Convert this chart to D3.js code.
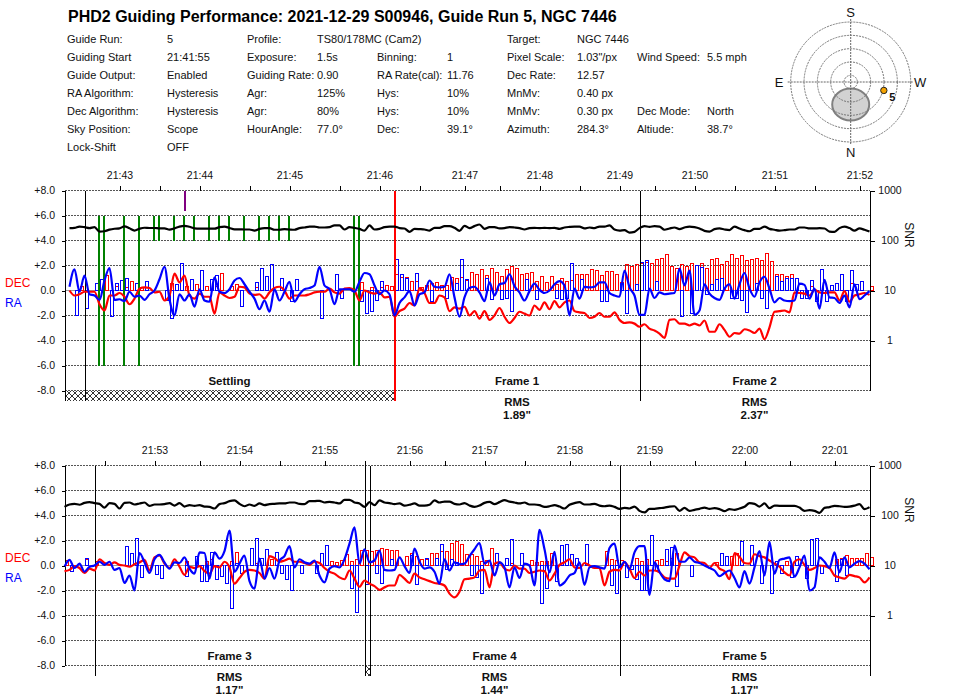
<!DOCTYPE html>
<html>
<head>
<meta charset="utf-8">
<script src="https://cdn.jsdelivr.net/npm/d3@7"></script>
<style>
body { margin: 0; background: #fff; }
svg { display: block; }
text { font-family: "Liberation Sans", Arial, sans-serif; fill: #111; }
</style>
</head>
<body>
<script>
var width = 955, height = 699;

var titleText = "PHD2 Guiding Performance: 2021-12-29 S00946, Guide Run 5, NGC 7446";

// header table, one list per column
var infoCols = [
  ["Guide Run:", "Guiding Start", "Guide Output:", "RA Algorithm:", "Dec Algorithm:", "Sky Position:", "Lock-Shift"],
  ["5", "21:41:55", "Enabled", "Hysteresis", "Hysteresis", "Scope", "OFF"],
  ["Profile:", "Exposure:", "Guiding Rate:", "Agr:", "Agr:", "HourAngle:"],
  ["TS80/178MC (Cam2)", "1.5s", "0.90", "125%", "80%", "77.0°"],
  ["", "Binning:", "RA Rate(cal):", "Hys:", "Hys:", "Dec:"],
  ["", "1", "11.76", "10%", "10%", "39.1°"],
  ["Target:", "Pixel Scale:", "Dec Rate:", "MnMv:", "MnMv:", "Azimuth:"],
  ["NGC 7446", "1.03\"/px", "12.57", "0.40 px", "0.30 px", "284.3°"],
  ["", "Wind Speed:", "", "", "Dec Mode:", "Altiude:"],
  ["", "5.5 mph", "", "", "North", "38.7°"]
];
var infoX = [67, 167, 247, 317, 377, 447, 507, 577, 637, 707];

var azimuth = 284.3, altitude = 38.7, runNumber = "5";

var yTicks = [8, 6, 4, 2, 0, -2, -4, -6, -8];
var snrTicks = [1000, 100, 10, 1];

// ---- top plot, samples run from 1 ----
var dec1 = [0,-.4,-.3,-.1,-.1,-.1,-1.1,-1.6,-.4,-.4,
  -.2,-.5,-1.1,-.65,.15,.25,.2,-.15,-.1,-.8,
  -.4,1.35,.65,1.2,-.4,-.65,-.25,-.5,-.5,-1.85,
  -.15,-.4,-.6,-.5,.3,.25,-.25,-.35,-.3,-.65,
  -.15,.2,.3,0,-.65,-.4,-.4,-.4,-.3,-.15,
  -.1,-.1,.15,-.15,-.25,.15,.2,0,-.8,0,
  -.15,-.25,-.15,-.55,-.5,-2.1,-1.65,-1.45,-1,-1.2,
  .2,-.2,-1,-1,-.4,-.55,-1.65,-1.35,-1.45,-1.3,
  -2,-1.65,-2.25,-1.65,-2.35,-2,-1.4,-2.1,-2.6,-2.2,
  -1.7,-1.85,-2,-1.2,-1.55,-.95,-1.5,-.85,-1.35,-.95,
  -.8,-1.65,-1.75,-1.8,-2.2,-2.1,-1.8,-2.1,-2.1,-1.75,
  -2.35,-2.6,-2.55,-2.65,-2.9,-2.7,-3.05,-3.2,-3.45,-3.8,
  -2.35,-2.3,-2.65,-2.65,-2.8,-2.65,-2.8,-2.4,-3.3,-3.3,
  -2.7,-3.15,-3.7,-3.4,-3.45,-3.1,-3.2,-3.4,-3.05,-3.9,
  -2.95,-1.7,-1.65,-1.6,-1.75,-.15,-.2,-.25,-.4,.05,
  -.15,-.2,-.15,-.15,-.8,-.05,-.9,-.4,-.3,-.2,-.35];
var ra1 = [.3,1.7,-.1,1.2,-.3,-.4,-.75,.8,1.8,-.75,
  -.7,-.85,-.1,-.5,-.4,-.75,-.3,0,.9,1.9,
  -.7,-2,-.3,-.8,-.3,-1.3,.1,-.8,-.9,1.05,
  -.1,-.2,.1,.8,1,.5,-.1,-.65,-1.5,-.8,
  -1.7,.1,-.8,-.1,.7,-.9,-.3,.1,.2,.4,
  1.9,.4,.1,-1.1,.1,.1,.1,-.1,.7,1.4,
  1.3,.4,-.3,0,-.3,-2,-1,-.55,-.05,-1.2,
  -.3,-.15,.8,.3,.25,.3,1.3,-.55,-2.1,-.55,
  .2,.3,-.15,-.85,.65,-.4,.5,.6,1.3,.35,
  -.15,-.8,-.05,.55,.05,-.2,0,.5,.75,.4,
  -2,.15,-.65,.3,.25,.3,.65,.65,-.2,-.4,
  -.5,1.6,.25,-.4,-1.95,-1.95,.15,-.6,-.15,-.3,
  -.25,-.2,1.75,.4,1.6,-1.95,-1.6,.5,-.25,-.6,
  -.75,.15,.5,-.65,.5,1.4,.15,-.5,.65,1.1,
  .15,-.95,-.6,-.8,-.85,-.8,.55,.45,-.65,.15,
  -1.45,.85,-.55,-.6,-1,-.4,-1.35,.5,-.7,-.4,-.05];
var snr1 = [177,179,190,185,177,185,150,153,165,172,
  175,192,175,158,172,180,178,178,175,175,
  165,175,190,197,188,175,172,172,172,172,
  185,190,178,167,167,166,166,158,171,177,
  177,164,164,169,166,164,177,182,190,190,
  182,182,185,200,200,166,185,179,171,158,
  200,166,171,185,190,190,177,174,149,171,
  169,166,158,179,179,194,194,179,156,197,
  177,194,209,171,185,185,174,177,185,182,
  177,166,177,179,177,179,177,179,171,182,
  187,190,190,174,182,177,190,190,200,166,
  158,161,144,149,177,194,187,194,190,164,
  174,182,169,182,190,185,174,156,151,169,
  174,166,161,190,174,161,153,171,171,190,
  171,164,158,161,166,166,182,182,174,174,
  177,174,151,149,177,190,177,158,174,164,151];
// guide pulses as [sample, length]
var raBars1 = [[2,-2],[4,-1.45],[6,.55],[7,.85],[9,-2.1],[10,.6],[11,.8],[12,1],[14,.6],[16,.75],[20,-.8],[21,-2.25],[22,.45],[23,2.15],[25,.9],[27,1.6],[29,.9],[30,1.2],
  [35,-1.3],[38,.65],[39,1.8],[40,1.15],[41,2.05],[43,.95],[45,-.9],[46,.85],[51,-2.25],[54,1.25],[55,-.6],[59,-.9],[60,-1.85],[61,-1.65],[62,-.8],[63,.75],
  [66,2.45],[67,1.25],[68,.95],[70,1.4],[73,-.9],[76,-.6],[78,.55],[79,2.45],[80,.9],
  [84,1],[85,-.75],[87,-.75],[88,-.65],[89,-1.65],[92,.85],[94,-.75],[98,-.6],[99,-.75],[100,-.65],[101,2.2],[103,.85],[107,-.85],[108,-.85],[111,.6],[112,-1.8],[114,.45],[115,2.25],[116,2.4],[118,.75],[123,-2.05],[125,-1.85],[126,2],[127,1.85],[128,-.35],[129,.45],[130,.85],
  [131,1],[133,-.6],[134,-.65],[135,-.8],[136,-1.75],[138,.6],[139,-.65],[140,-1.4],[142,1.1],[143,.7],[144,1],[145,1],[146,.95],[147,-.6],[148,-.6],[149,.8],[150,-.9],[151,1.65],[152,-.9],[153,.4],[154,.6],[155,1.25],[156,-.85],[157,1.6],[158,.5],[159,.7]];
var decBars1 = [[3,.3],[8,1.2],[10,.3],[12,.25],[13,.75],[15,.25],[21,.6],[24,.3],[26,.5],[28,.3],[30,.3],[31,1.4],[33,.35],[34,.45],
  [38,.25],[59,.65],[61,.25],[63,.25],[64,.4],[65,.35],
  [66,1.25],[67,1.05],[68,1.05],[69,.75],[70,.75],[71,.25],[72,.4],[73,.6],[74,.65],[75,.4],[76,.4],[77,1.05],[78,.95],[79,1.05],[80,.8],[81,1.45],[82,1.25],
  [83,1.65],[84,1.2],[85,1.75],[86,1.45],[87,1.1],[88,1.65],[89,1.95],[90,1.75],[91,1.3],[92,1.4],[93,1.45],[94,.75],[95,1.15],[96,.65],[97,1.15],[98,.5],[99,1],[100,.75],[101,.8],[102,1.25],[103,1.25],[104,1.3],[105,1.65],[106,1.6],[107,1.2],[108,1.55],[109,1.55],[110,1.25],[111,.65],[112,2.05],[113,1.9],[114,2.05],[115,2.15],[116,2.25],[117,2.15],[118,2.45],[119,2.6],[120,2.85],[121,1.9],[122,1.75],[123,2.05],[124,1.9],[125,2.2],[126,2],[127,2.2],[128,1.8],[129,2.5],[130,2.55],
  [131,2.05],[132,2.35],[133,2.85],[134,2.6],[135,2.8],[136,2.4],[137,2.45],[138,2.6],[139,2.4],[140,3],[141,2.3],[142,1.25],[143,1.25],[144,1.15],[145,1.3],[149,.35],[157,.6],[161,.3]];
var longMarks1 = [7, 8, 12, 15, 58, 59];
var shortMarks1 = [18, 19, 22, 24, 26, 29, 31, 33, 36, 39, 41, 43, 45];
var purpleMarks1 = [24];
var labelTicks1 = [11, 27, 45, 63, 80, 95, 111, 126, 142, 159];
var labelNames1 = ["21:43", "21:44", "21:45", "21:46", "21:47", "21:48", "21:49", "21:50", "21:51", "21:52"];
var plainTicks1 = [19, 37, 55, 71, 87, 103, 118, 134, 150];
var frameNames1 = ["Settling", "Frame 1", "Frame 2"];
var frameCenters1 = [33, 90.5, 138];
var rmsValues1 = ["", "1.89\"", "2.37\""];
var blackLines1 = [4, 115];

// ---- bottom plot, samples run from 0 ----
var dec2 = [-.45,-.35,-.05,-.2,-.6,-.25,-.4,.5,.2,.05,
  .25,.05,0,-.1,.1,.25,.45,-.4,.65,.8,
  .15,-.2,.5,-.1,-.75,-.1,-.2,-.05,-.45,-.65,
  -.05,-.15,.3,-.15,-1.45,-1,-.5,-.35,-.4,-.6,
  -1.05,.75,.6,.3,.4,.55,.3,.3,.2,.05,
  .3,.2,-.2,-.5,-.65,-.95,-1.1,-.4,-1.05,-1.7,
  -1.2,-1.45,-1.65,-1.95,-1.75,-1.6,-1.6,-.75,-1.05,-1.4,
  -.65,-.95,-1.1,-1.25,-1.4,-1.45,-1.6,-2.25,-2.55,-2.1,
  -1.1,-1.05,-.95,-.4,-.35,-1.75,.15,.25,-.25,-.4,
  0,-.25,-.25,-.6,-.5,-.4,-.45,-1.2,-.65,.05,
  .25,.5,-.15,-.2,.2,0,-.2,-.2,-1.6,-.5,
  -.35,-.4,.25,-.25,-1,-.5,-.8,-.4,-.4,-.55,
  -.95,-1.05,-1.05,0,1.05,.75,.65,.25,.2,-.2,
  .2,-.25,-.45,-1.1,1,.7,.2,.15,.9,.75,
  .65,.4,.15,-.1,-.55,-.8,.3,.5,.05,-.35,
  -.2,0,-.05,-.2,-.8,-.95,-1.05,-.75,-.85,-.95,-1.35,-.95];
var ra2 = [-.1,.45,-.2,.15,-.5,-.1,0,.3,.05,.3,
  -.35,-.2,-1.4,-.8,-2,1,.25,-.6,.5,.85,
  .25,-.25,.25,.2,.65,-.25,-.65,1.05,1,-1.05,
  1.05,.55,1.15,2.8,-.5,.15,.8,-1.25,-1.85,.55,
  -1.05,-.2,-1.05,.4,.75,1.55,-.15,.5,.25,.15,
  .4,-.8,-1.35,-.25,-.05,-.15,.5,1.75,3.05,.15,
  1.3,.25,.4,1.2,-.35,-.4,-.35,.65,-.05,-.6,
  1.35,.3,-.25,-.15,-.5,-1.45,.5,-.4,.25,.1,
  .15,.75,1.3,1.8,.15,.4,-.8,.25,-.15,-1.75,
  -.15,-1,.15,0,-1.6,2.85,1.3,-.55,1.1,-1.6,
  -1.35,-.8,-.6,.25,-1.55,-.15,-.05,-.15,-.25,1.4,
  1.75,-.15,.3,-.3,1.05,1.55,1.55,-2.35,.25,-.5,
  -1.1,-1.25,1.6,.3,.3,.65,.3,.2,0,-.2,
  -.4,-.85,-.6,-.4,-1,-1.75,-.45,-1.45,-.15,1.15,
  -.8,1.9,-.65,.45,.55,.65,-.9,-.15,.8,-2,
  -1.75,.65,.3,-.2,1.05,-.55,.65,-.15,.15,.35,.15,-.3];
var snr2 = [149,166,171,164,179,185,177,171,144,177,
  171,138,179,182,166,174,182,156,166,166,
  169,177,158,177,151,161,156,161,151,149,
  138,169,177,194,200,171,153,166,156,174,
  161,169,171,174,174,182,182,171,169,194,
  194,197,182,187,182,174,206,206,182,174,
  149,185,161,200,182,177,169,174,158,164,
  174,158,158,164,200,182,190,190,171,166,
  177,158,149,158,179,187,169,185,203,190,
  182,174,182,166,166,161,149,153,161,151,
  138,164,177,185,166,166,171,158,153,158,
  149,136,142,138,151,124,115,136,136,140,
  144,151,153,124,142,124,130,136,144,136,
  140,134,122,134,130,138,149,177,171,151,
  174,140,158,156,156,156,156,144,124,128,
  124,113,142,147,156,153,149,151,158,169,134,147];
var raBars2 = [[1,-.5],[4,.55],[12,1.55],[13,.95],[14,2.2],[15,-.95],[18,-.75],[19,-1.05],[24,-.85],[26,.7],[27,-1.25],[28,-1.3],[29,1.05],[30,-1.15],[31,-.85],[32,-1.45],[33,-3.45],[34,.15],
  [35,-.6],[37,1.4],[38,2.2],[39,.6],[40,1.25],[42,1.05],[43,-.65],[44,-1.15],[45,-2],[47,-.65],[50,-.6],[51,.95],[52,1.6],[57,-1.8],[58,-3.75],[60,-1.5],[62,-.6],[63,-1.45],[65,.45],[69,.8],[70,-1.55],[72,.6],[74,.6],[75,1.7],[76,-.35],[77,.45],[78,.25],[81,-.8],[82,-.95],
  [83,-2.25],[86,.95],[88,.55],[89,2.05],[91,1],[95,-3.05],[96,-1.8],[98,-1.3],[99,1.6],[100,1.65],[101,.85],[102,.6],[104,1.65],[109,-1.6],[110,-2.2],[112,-.95],[113,-.35],[114,-1.1],[115,-2],[116,-2],[117,2.4],[118,-.4],[120,1.25],[121,1.45],[122,-1.65],[125,-.85],
  [131,.95],[132,.7],[135,1.95],[137,1.6],[139,-1.4],[141,-2.2],[142,.35],[143,-.6],[145,-.95],[146,.7],[148,-1],[149,2.05],[150,2.15],[151,-.6],[154,-1.25],[155,.5],[156,-.8]];
var decBars2 = [[0,.4],[4,.5],[6,.3],[24,.3],[28,.3],[29,.45],[33,.3],[34,1.05],
  [38,.2],[41,.5],[53,.3],[54,.25],[55,.4],[56,.85],[57,.3],[58,.5],[59,1.2],[60,1.2],[61,1.1],[62,1.2],[63,1.4],[64,1.25],[65,1.2],[66,1.2],[68,.75],[69,1],[70,.7],[71,.45],[72,.5],[73,.95],[74,.95],[75,1.1],[76,1.15],[77,1.75],[78,1.9],[79,1.65],[80,.85],[81,.9],[82,.7],
  [83,.3],[84,.4],[85,1.35],[89,.2],[93,.4],[94,.25],[95,.3],[96,.3],[97,.95],[108,1.1],[109,.45],[110,.4],[111,.4],[114,.6],[115,.3],[116,.5],[118,.4],[119,.45],[120,.3],[121,.6],[122,1],
  [130,.25],[133,.75],[134,1],[144,.3],[154,.5],[155,.6],[156,.8],[157,.55],[158,.6],[159,.6],[160,1],[161,.65]];
var labelTicks2 = [18, 35, 52, 69, 84, 101, 117, 136, 154];
var labelNames2 = ["21:53", "21:54", "21:55", "21:56", "21:57", "21:58", "21:59", "22:00", "22:01"];
var plainTicks2 = [8, 27, 43, 60, 76, 92, 109, 126, 145];
var frameNames2 = ["Frame 3", "Frame 4", "Frame 5"];
var frameCenters2 = [33, 86, 136];
var rmsValues2 = ["1.17\"", "1.44\"", "1.17\""];
var blackLines2 = [6, 60, 61, 111, 161];

var svg = d3.select("body").append("svg").attr("width", width).attr("height", height);

var defs = svg.append("defs");
var hatch = defs.append("pattern").attr("id", "hatch").attr("patternUnits", "userSpaceOnUse")
  .attr("width", 6).attr("height", 6);
hatch.append("path").attr("d", "M0,0L6,6M6,0L0,6").attr("stroke", "#333").attr("stroke-width", 1).attr("fill", "none");

svg.append("text").attr("x", 68).attr("y", 22).attr("font-size", 16).attr("font-weight", "bold")
  .style("fill", "#000").text(titleText);

// header table
infoCols.forEach(function(col, c){
  col.forEach(function(t, r){
    if (!t) return;
    svg.append("text").attr("x", infoX[c]).attr("y", 43 + r * 18).attr("font-size", 11).text(t);
  });
});

// sky chart
function drawSky(){
  var cx = 850.7, cy = 82;
  var zen = d3.scaleLinear().domain([0, 90]).range([0, 60]);
  var sky = svg.append("g").attr("transform", "translate(" + cx + "," + cy + ")");
  sky.append("ellipse").attr("cx", 0).attr("cy", 22.5).attr("rx", 18.5).attr("ry", 16)
    .attr("fill", "#d2d2d2").attr("stroke", "#808080").attr("stroke-width", 2);
  [10, 30, 50, 70, 90].forEach(function(z){
    sky.append("circle").attr("r", zen(z)).attr("fill", "none")
      .attr("stroke", "#777").attr("stroke-width", 1).attr("stroke-dasharray", "2,1");
  });
  sky.append("path").attr("d", "M-63,0H63M0,-63V63").attr("stroke", "#666").attr("stroke-width", 1)
    .attr("stroke-dasharray", "2,1").attr("fill", "none");
  var a = azimuth * Math.PI / 180, r = zen(90 - altitude);
  var px = -Math.sin(a) * r, py = Math.cos(a) * r;
  sky.append("circle").attr("cx", px).attr("cy", py).attr("r", 3.2)
    .attr("fill", "#f5a300").attr("stroke", "#222").attr("stroke-width", 1);
  sky.append("text").attr("x", px + 8.5).attr("y", py + 10.5).attr("font-size", 11).attr("font-weight", "bold")
    .attr("text-anchor", "middle").text(runNumber);
  [["S", 0, -65.5], ["N", 0, 74.5], ["E", -71.5, 4.5], ["W", 69.5, 4.5]].forEach(function(d){
    sky.append("text").attr("x", d[1]).attr("y", d[2]).attr("font-size", 13).attr("text-anchor", "middle").text(d[0]);
  });
}
drawSky();

var x = d3.scaleLinear().domain([0, 161]).range([64.5, 869.5]);

function drawPlot(p){
  var y = d3.scaleLinear().domain([-8, 8]).range([p.top + 200, p.top]);
  var snrY = d3.scaleLog().domain([0.1, 1000]).range([p.top + 200, p.top]);
  var g = svg.append("g");
  var crisp = g.append("g").attr("shape-rendering", "crispEdges");

  // horizontal grid
  crisp.selectAll("line.grid").data(yTicks).join("line").attr("class", "grid")
    .attr("x1", 65).attr("x2", 870).attr("y1", function(d){ return y(d); }).attr("y2", function(d){ return y(d); })
    .attr("stroke", function(d){ return d === 0 ? "#999" : "#555"; })
    .attr("stroke-dasharray", function(d){ return d === 0 ? null : "2,1"; });

  // hatch bands under settling / gaps
  p.hatchBands.forEach(function(b){
    crisp.append("rect").attr("x", x(b[0]) + 0.5).attr("y", y(-8)).attr("width", x(b[1]) - x(b[0]))
      .attr("height", 10).attr("fill", "url(#hatch)");
  });

  // guide pulse bars
  function bars(list, colour){
    crisp.append("g").selectAll("rect").data(list).join("rect")
      .attr("x", function(d){ return x(d[0]) + 1; })
      .attr("width", 3)
      .attr("y", function(d){ return Math.min(y(0), y(d[1])); })
      .attr("height", function(d){ return Math.abs(y(d[1]) - y(0)); })
      .attr("fill", "none").attr("stroke", colour).attr("stroke-width", 1);
  }
  bars(p.decBars, "#f00");
  bars(p.raBars, "#00f");

  // settling markers
  function marks(list, colour, from, to, dx){
    crisp.append("g").selectAll("line").data(list).join("line")
      .attr("x1", function(d){ return x(d) + dx; }).attr("x2", function(d){ return x(d) + dx; })
      .attr("y1", y(from)).attr("y2", y(to)).attr("stroke", colour).attr("stroke-width", 2);
  }
  marks(p.longMarks, "#008000", 6, -6, -0.5);
  marks(p.shortMarks, "#008000", 6, 4, -0.5);
  marks(p.purpleMarks, "#800080", 8, 6.4, 0.5);

  function series(values, yFn, colour){
    var line = d3.line()
      .curve(d3.curveMonotoneX)
      .x(function(d, i){ return x(i + p.first); })
      .y(function(d){ return yFn(d); });
    g.append("path").attr("d", line(values)).attr("fill", "none").attr("stroke", colour)
      .attr("stroke-width", 2.2).attr("stroke-linejoin", "round");
  }
  series(p.dec, y, "#f00");
  series(p.ra, y, "#00f");
  series(p.snr, snrY, "#000");

  // vertical lines and frame edges
  crisp.append("line").attr("x1", 65.5).attr("x2", 65.5).attr("y1", y(8)).attr("y2", p.leftEnd).attr("stroke", "#000");
  crisp.append("line").attr("x1", 870.5).attr("x2", 870.5).attr("y1", y(8)).attr("y2", p.rightEnd).attr("stroke", "#000");
  p.blackLines.forEach(function(s){
    crisp.append("line").attr("x1", x(s) + 1).attr("x2", x(s) + 1).attr("y1", y(8)).attr("y2", y(-8) + 10).attr("stroke", "#000");
  });
  if (p.redLine != null) {
    crisp.append("line").attr("x1", x(p.redLine) + 0.5).attr("x2", x(p.redLine) + 0.5).attr("y1", y(8)).attr("y2", y(-8) + 10)
      .attr("stroke", "#f00").attr("stroke-width", 2);
  }

  // axes
  var leftAxis = d3.axisLeft(y).tickValues(yTicks).tickSize(3.5).tickPadding(6.5)
    .tickFormat(function(d){ return d === 0 ? "0.0" : (d > 0 ? "+" : "-") + Math.abs(d).toFixed(1); });
  var la = g.append("g").attr("transform", "translate(65,0)").call(leftAxis);
  la.select(".domain").remove();

  var rightAxis = d3.axisRight(snrY).tickValues(snrTicks).tickSize(5).tickPadding(4)
    .tickFormat(function(d){ return d; });
  var ra = g.append("g").attr("transform", "translate(870,0)").call(rightAxis);
  ra.select(".domain").remove();

  var names = {};
  p.labelTicks.forEach(function(t, i){ names[t] = p.labelNames[i]; });
  var topAxis = d3.axisTop(x).tickValues(p.labelTicks.concat(p.plainTicks)).tickSize(5).tickPadding(7)
    .tickFormat(function(d){ return names[d] || ""; });
  var ta = g.append("g").attr("transform", "translate(0," + p.top + ")").call(topAxis);
  ta.select(".domain").remove();

  g.selectAll(".tick text").attr("font-size", 10.5).attr("font-family", null).style("fill", "#111");
  ra.selectAll(".tick text").attr("text-anchor", "middle").attr("x", 20);
  g.selectAll(".tick line").attr("shape-rendering", "crispEdges");

  g.append("text").attr("transform", "translate(905," + (p.top + 44.5) + ") rotate(90)")
    .attr("text-anchor", "middle").attr("font-size", 12).text("SNR");
  g.append("text").attr("x", 5).attr("y", p.top + 96.5).attr("font-size", 12).style("fill", "#f00").text("DEC");
  g.append("text").attr("x", 5).attr("y", p.top + 116.5).attr("font-size", 12).style("fill", "#00f").text("RA");

  // frame captions
  p.frameNames.forEach(function(name, i){
    var c = x(p.frameCenters[i]);
    g.append("text").attr("x", c).attr("y", y(-8) - 5.5).attr("text-anchor", "middle")
      .attr("font-size", 11.5).attr("font-weight", "bold").text(name);
    if (p.rmsValues[i]) {
      g.append("text").attr("x", c).attr("y", y(-8) + 15).attr("text-anchor", "middle")
        .attr("font-size", 11.5).attr("font-weight", "bold").text("RMS");
      g.append("text").attr("x", c).attr("y", y(-8) + 28).attr("text-anchor", "middle")
        .attr("font-size", 11.5).attr("font-weight", "bold").text(p.rmsValues[i]);
    }
  });
}

drawPlot({
  top: 190.5, first: 1, dec: dec1, ra: ra1, snr: snr1, raBars: raBars1, decBars: decBars1,
  longMarks: longMarks1, shortMarks: shortMarks1, purpleMarks: purpleMarks1,
  labelTicks: labelTicks1, labelNames: labelNames1, plainTicks: plainTicks1,
  frameNames: frameNames1, frameCenters: frameCenters1, rmsValues: rmsValues1,
  blackLines: blackLines1, redLine: 66, hatchBands: [[0, 66]], leftEnd: 400.5, rightEnd: 390.5
});
drawPlot({
  top: 465.5, first: 0, dec: dec2, ra: ra2, snr: snr2, raBars: raBars2, decBars: decBars2,
  longMarks: [], shortMarks: [], purpleMarks: [],
  labelTicks: labelTicks2, labelNames: labelNames2, plainTicks: plainTicks2,
  frameNames: frameNames2, frameCenters: frameCenters2, rmsValues: rmsValues2,
  blackLines: blackLines2, redLine: null, hatchBands: [[60, 61]], leftEnd: 665.5, rightEnd: 675.5
});
</script>
</body>
</html>
